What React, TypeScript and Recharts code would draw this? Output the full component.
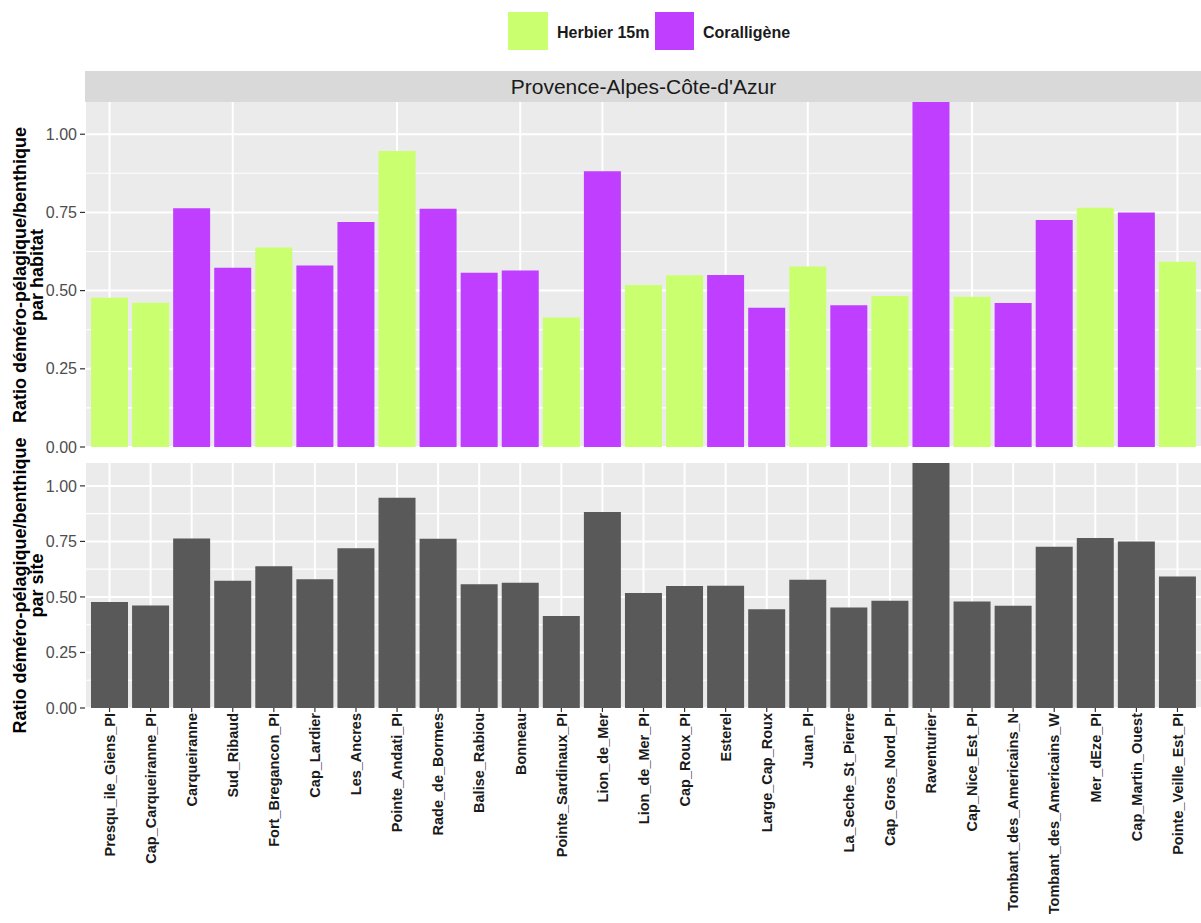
import React from 'react';
import { BarChart, Bar, XAxis, YAxis, CartesianGrid } from 'recharts';

const sites = [
  'Presqu_ile_Giens_PI', 'Cap_Carqueiranne_PI', 'Carqueiranne', 'Sud_Ribaud', 'Fort_Bregancon_PI',
  'Cap_Lardier', 'Les_Ancres', 'Pointe_Andati_PI', 'Rade_de_Bormes', 'Balise_Rabiou', 'Bonneau',
  'Pointe_Sardinaux_PI', 'Lion_de_Mer', 'Lion_de_Mer_PI', 'Cap_Roux_PI', 'Esterel', 'Large_Cap_Roux',
  'Juan_PI', 'La_Seche_St_Pierre', 'Cap_Gros_Nord_PI', 'Raventurier', 'Cap_Nice_Est_PI',
  'Tombant_des_Americains_N', 'Tombant_des_Americains_W', 'Mer_dEze_PI', 'Cap_Martin_Ouest',
  'Pointe_Veille_Est_PI',
];
const habitats = ['H', 'H', 'C', 'C', 'H', 'C', 'C', 'H', 'C', 'C', 'C', 'H', 'C', 'H', 'H', 'C', 'C', 'H', 'C', 'H', 'C', 'H', 'C', 'C', 'H', 'C', 'H'];
const ratios = [
  0.477, 0.461, 0.763, 0.573, 0.638, 0.580, 0.719, 0.946, 0.762, 0.557, 0.564, 0.414, 0.882, 0.518,
  0.549, 0.550, 0.445, 0.577, 0.453, 0.483, 1.103, 0.480, 0.460, 0.726, 0.765, 0.750, 0.592,
];
const yTicks = [0, 0.25, 0.5, 0.75, 1.0];
const yMinor = [0.125, 0.375, 0.625, 0.875];
const legendLabels = { H: 'Herbier 15m', C: 'Coralligène' };
const stripLabel = "Provence-Alpes-Côte-d'Azur";
const yTitleTop = ['Ratio déméro-pélagique/benthique', 'par habitat'];
const yTitleBottom = ['Ratio déméro-pélagique/benthique', 'par site'];

const GREEN = '#CAFF70';
const PURPLE = '#BF3EFF';
const GREY = '#595959';
const FONT = '"Liberation Sans", Arial, sans-serif';

const data = sites.map((s, i) => ({
  site: s,
  herbier: habitats[i] === 'H' ? ratios[i] : 0,
  coral: habitats[i] === 'C' ? ratios[i] : 0,
  total: ratios[i],
}));

const CHART_W = 1210;
const PLOT_LEFT = 85;
const PLOT_RIGHT = 1202;
const BAR_SIZE = 37;
const xPad = { left: 4, right: 4 };

const fmt = (v: number) => v.toFixed(2);
const yTickStyle = { fontSize: 16, fill: '#4D4D4D', fontFamily: FONT };

const XTick = (props: any) => {
  const { x, y, payload } = props;
  return (
    <g transform={`translate(${x},${y})`}>
      <text
        transform="rotate(-90)"
        textAnchor="end"
        dy="0.36em"
        fontSize={14.5}
        fontWeight="bold"
        fill="#1A1A1A"
        fontFamily={FONT}
      >
        {payload.value}
      </text>
    </g>
  );
};

export default function App() {
  return (
    <div
      style={{
        position: 'absolute',
        left: 0,
        top: 0,
        width: 1201,
        height: 923,
        overflow: 'hidden',
        background: '#FFFFFF',
        fontFamily: FONT,
      }}
    >
      {/* Legend */}
      <div style={{ position: 'absolute', left: 508, top: 12, width: 40, height: 38, background: GREEN }} />
      <div style={{ position: 'absolute', left: 557, top: 22, fontSize: 16, fontWeight: 'bold', color: '#1A1A1A', lineHeight: '22px', whiteSpace: 'nowrap' }}>
        {legendLabels.H}
      </div>
      <div style={{ position: 'absolute', left: 655, top: 12, width: 39, height: 38, background: PURPLE }} />
      <div style={{ position: 'absolute', left: 703, top: 22, fontSize: 16, fontWeight: 'bold', color: '#1A1A1A', lineHeight: '22px', whiteSpace: 'nowrap' }}>
        {legendLabels.C}
      </div>

      {/* Strip */}
      <div
        style={{
          position: 'absolute',
          left: PLOT_LEFT,
          top: 71,
          width: PLOT_RIGHT - PLOT_LEFT,
          height: 31,
          background: '#D9D9D9',
          color: '#1A1A1A',
          fontSize: 21,
          lineHeight: '31px',
          textAlign: 'center',
          whiteSpace: 'nowrap',
        }}
      >
        {stripLabel}
      </div>

      {/* Top panel */}
      <div style={{ position: 'absolute', left: 0, top: 0 }}>
        <BarChart
          width={CHART_W}
          height={460}
          data={data}
          margin={{ top: 102, right: CHART_W - PLOT_RIGHT, bottom: 13, left: 0 }}
        >
          <CartesianGrid
            fill="#EBEBEB"
            stroke="#FFFFFF"
            strokeWidth={1.1}
            vertical={false}
            horizontalValues={yMinor}
          />
          <CartesianGrid stroke="#FFFFFF" strokeWidth={2} horizontalValues={yTicks} />
          <XAxis dataKey="site" hide padding={xPad} />
          <YAxis
            width={PLOT_LEFT}
            domain={[0, 'dataMax']}
            ticks={yTicks}
            tickFormatter={fmt}
            axisLine={false}
            tickSize={5}
            tickMargin={3}
            tickLine={{ stroke: '#333333', strokeWidth: 1.2 }}
            tick={yTickStyle}
            allowDataOverflow
          />
          <Bar dataKey="herbier" stackId="a" fill={GREEN} barSize={BAR_SIZE} isAnimationActive={false} />
          <Bar dataKey="coral" stackId="a" fill={PURPLE} barSize={BAR_SIZE} isAnimationActive={false} />
        </BarChart>
      </div>

      {/* Bottom panel */}
      <div style={{ position: 'absolute', left: 0, top: 455 }}>
        <BarChart
          width={CHART_W}
          height={468}
          data={data}
          margin={{ top: 8, right: CHART_W - PLOT_RIGHT, bottom: 0, left: 0 }}
        >
          <CartesianGrid
            fill="#EBEBEB"
            stroke="#FFFFFF"
            strokeWidth={1.1}
            vertical={false}
            horizontalValues={yMinor}
          />
          <CartesianGrid stroke="#FFFFFF" strokeWidth={2} horizontalValues={yTicks} />
          <XAxis
            dataKey="site"
            padding={xPad}
            height={215}
            interval={0}
            axisLine={false}
            tickSize={4}
            tickMargin={1}
            tickLine={{ stroke: '#333333', strokeWidth: 1.2 }}
            tick={<XTick />}
          />
          <YAxis
            width={PLOT_LEFT}
            domain={[0, 'dataMax']}
            ticks={yTicks}
            tickFormatter={fmt}
            axisLine={false}
            tickSize={5}
            tickMargin={3}
            tickLine={{ stroke: '#333333', strokeWidth: 1.2 }}
            tick={yTickStyle}
            allowDataOverflow
          />
          <Bar dataKey="total" fill={GREY} barSize={BAR_SIZE} isAnimationActive={false} />
        </BarChart>
      </div>

      {/* Y axis titles */}
      <svg
        width={80}
        height={923}
        style={{ position: 'absolute', left: 0, top: 0, overflow: 'visible' }}
      >
        <text
          transform="translate(0,275) rotate(-90)"
          textAnchor="middle"
          fontSize={18}
          fontWeight="bold"
          fill="#000000"
          fontFamily={FONT}
        >
          <tspan x={0} y={26}>{yTitleTop[0]}</tspan>
          <tspan x={0} y={42.5}>{yTitleTop[1]}</tspan>
        </text>
        <text
          transform="translate(0,585.5) rotate(-90)"
          textAnchor="middle"
          fontSize={18}
          fontWeight="bold"
          fill="#000000"
          fontFamily={FONT}
        >
          <tspan x={0} y={26}>{yTitleBottom[0]}</tspan>
          <tspan x={0} y={42.5}>{yTitleBottom[1]}</tspan>
        </text>
      </svg>
    </div>
  );
}
